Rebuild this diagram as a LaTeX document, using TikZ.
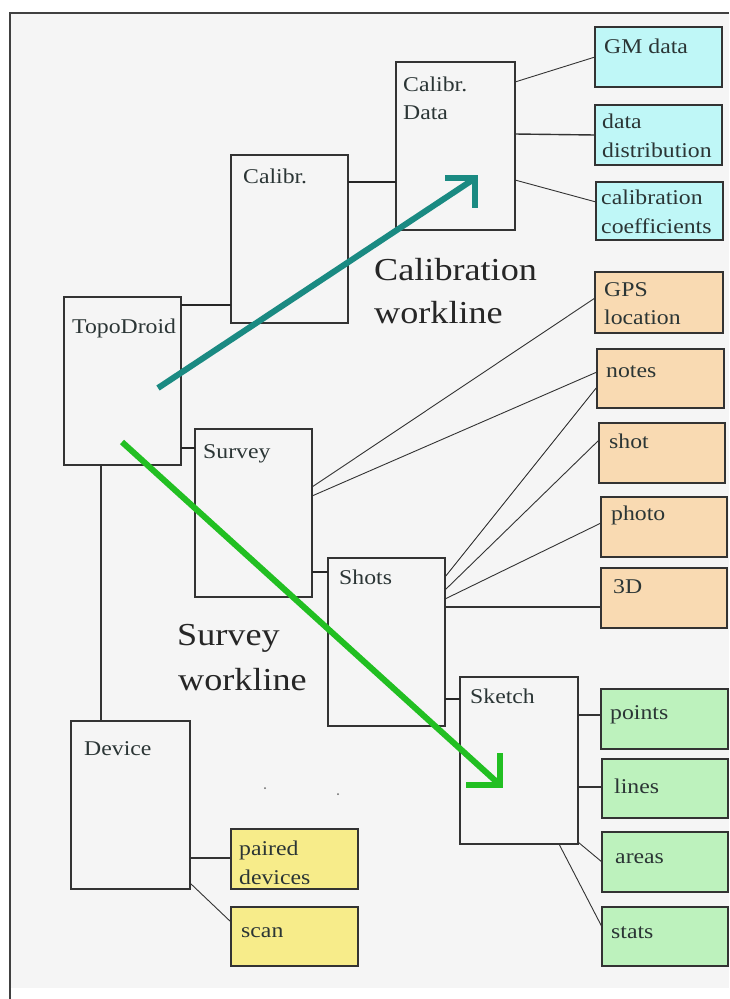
\documentclass[tikz,border=0pt]{standalone}
\usepackage{fontspec}
\setmainfont{LiberationSerif}[Extension=.ttf, UprightFont=*-Regular, BoldFont=*-Bold]
\usetikzlibrary{calc}
\definecolor{bgc}{HTML}{F5F5F5}
\definecolor{cyanf}{HTML}{BFF7F7}
\definecolor{peachf}{HTML}{F9DAB2}
\definecolor{yellowf}{HTML}{F7EC8A}
\definecolor{greenf}{HTML}{BDF2BD}
\definecolor{linec}{HTML}{333333}
\definecolor{textc}{HTML}{2B3535}
\definecolor{tealc}{HTML}{1A8A82}
\definecolor{greenc}{HTML}{22BF22}
\newcommand{\mybox}[6]{\node[#1, minimum width={#5-#3}, minimum height={#6-#4}, anchor=north west] (#2) at (#3,#4) {};}
\tikzset{
  boxst/.style={draw=linec, line width=1.2pt, inner sep=0pt, outer sep=0pt},
  wbox/.style={boxst, fill=bgc},
  cbox/.style={boxst, fill=cyanf},
  pbox/.style={boxst, fill=peachf},
  ybox/.style={boxst, fill=yellowf},
  gbox/.style={boxst, fill=greenf},
  lbl/.style={anchor=base west, inner sep=0pt, text=textc, xscale=1.13, transform shape, font=\fontsize{21}{24}\selectfont},
  big/.style={anchor=base west, inner sep=0pt, text=black!85, xscale=1.13, transform shape, font=\fontsize{32}{36}\selectfont},
  thickc/.style={draw=black!85, line width=2.6pt},
  thinc/.style={draw=linec, line width=0.9pt},
  medc/.style={draw=linec, line width=1.4pt},
  wl/.style={line width=6pt, line cap=butt, line join=miter},
}
\begin{document}
\begin{tikzpicture}[x=1pt,y=-1pt]
\useasboundingbox (0,0) rectangle (729,999);
% background and frame
\fill[bgc] (10,13) rectangle (729,988);
\draw[draw=black!75, line width=1.5pt] (10,999) -- (10,13) -- (729,13);

% boxes
\mybox{wbox}{topo}{64}{297}{181}{465}
\mybox{wbox}{calib}{231}{155}{348}{323}
\mybox{wbox}{cdata}{396}{62}{515}{230}
\mybox{cbox}{gm}{595}{27}{722}{87}
\mybox{cbox}{dist}{595}{105}{722}{165}
\mybox{cbox}{coef}{596}{182}{723}{240}
\mybox{pbox}{gps}{595}{272}{723}{333}
\mybox{pbox}{notes}{597}{349}{724}{408}
\mybox{pbox}{shot}{599}{423}{725}{483}
\mybox{pbox}{photo}{601}{497}{727}{557}
\mybox{pbox}{td}{601}{568}{727}{628}
\mybox{wbox}{survey}{195}{429}{312}{597}
\mybox{wbox}{shots}{328}{558}{445}{726}
\mybox{wbox}{sketch}{460}{677}{578}{844}
\mybox{gbox}{points}{601}{689}{728}{749}
\mybox{gbox}{lines}{602}{759}{728}{818}
\mybox{gbox}{areas}{602}{832}{728}{892}
\mybox{gbox}{stats}{602}{907}{728}{966}
\mybox{wbox}{device}{71}{721}{190}{889}
\mybox{ybox}{paired}{231}{829}{358}{889}
\mybox{ybox}{scan}{231}{907}{358}{966}

% connectors
\draw[thickc] ($(topo.north east)+(0,8)$) -- ($(calib.south west)+(0,-18)$);
\draw[thickc] ($(calib.north east)+(0,27)$) -- ($(cdata.north west)+(0,120)$);
\draw[thinc] ($(cdata.north east)+(0,20)$) -- ($(gm.north west)+(0,30)$);
\draw[medc] ($(cdata.north east)+(0,72)$) -- (dist.west);
\draw[thinc] ($(cdata.north east)+(0,118)$) -- ($(coef.north west)+(0,20)$);
\draw[thickc] ($(topo.south east)+(0,-17)$) -- ($(survey.north west)+(0,19)$);
\draw[thinc] ($(survey.north east)+(0,58)$) -- ($(gps.north west)+(0,26)$);
\draw[thinc] ($(survey.north east)+(0,67)$) -- ($(notes.north west)+(0,23)$);
\draw[thickc] ($(survey.south east)+(0,-25)$) -- ($(shots.north west)+(0,14)$);
\draw[thinc] ($(shots.north east)+(0,19)$) -- ($(notes.north west)+(0,38)$);
\draw[thinc] ($(shots.north east)+(0,32)$) -- ($(shot.north west)+(0,17)$);
\draw[thinc] ($(shots.north east)+(0,41)$) -- ($(photo.north west)+(0,26)$);
\draw[medc] ($(shots.north east)+(0,49)$) -- ($(td.north west)+(0,39)$);
\draw[thickc] ($(shots.south east)+(0,-27)$) -- ($(sketch.north west)+(0,22)$);
\draw[medc] ($(sketch.north east)+(0,38)$) -- ($(points.north west)+(0,26)$);
\draw[medc] ($(sketch.north east)+(0,110)$) -- ($(lines.north west)+(0,28)$);
\draw[thinc] ($(sketch.south east)+(0,-2)$) -- ($(areas.north west)+(0,30)$);
\draw[thinc] ($(sketch.south east)+(-19,0)$) -- ($(stats.north west)+(0,20)$);
\draw[medc] ($(device.north east)+(0,137)$) -- ($(paired.north west)+(0,29)$);
\draw[thinc] ($(device.south east)+(0,-6)$) -- ($(scan.north west)+(0,15)$);
\draw[medc] ($(topo.south west)+(37,0)$) -- ($(device.north west)+(30,0)$);

% box labels
\node[lbl] (topo-t) at (72,333) {TopoDroid};
\node[lbl] (calib-t) at (243,183) {Calibr.};
\node[lbl] (cdata-t1) at (403,91) {Calibr.};
\node[lbl] (cdata-t2) at (403,119) {Data};
\node[lbl] (gm-t) at (604,53) {GM data};
\node[lbl] (dist-t1) at (602,128) {data};
\node[lbl] (dist-t2) at (602,157) {distribution};
\node[lbl] (coef-t1) at (601,204) {calibration};
\node[lbl] (coef-t2) at (601,233) {coefficients};
\node[lbl] (gps-t1) at (604,296) {GPS};
\node[lbl] (gps-t2) at (604,324) {location};
\node[lbl] (notes-t) at (606,377) {notes};
\node[lbl] (shot-t) at (609,448) {shot};
\node[lbl] (photo-t) at (611,520) {photo};
\node[lbl] (td-t) at (613,593) {3D};
\node[lbl] (survey-t) at (203,458) {Survey};
\node[lbl] (shots-t) at (339,584) {Shots};
\node[lbl] (sketch-t) at (470,703) {Sketch};
\node[lbl] (points-t) at (610,719) {points};
\node[lbl] (lines-t) at (614,793) {lines};
\node[lbl] (areas-t) at (615,863) {areas};
\node[lbl] (stats-t) at (611,938) {stats};
\node[lbl] (device-t) at (84,755) {Device};
\node[lbl] (paired-t1) at (239,855) {paired};
\node[lbl] (paired-t2) at (239,884) {devices};
\node[lbl] (scan-t) at (241,937) {scan};

% workline labels
\node[big] (cw1) at (374,280) {Calibration};
\node[big] (cw2) at (374,323) {workline};
\node[big] (sw1) at (177,645) {Survey};
\node[big] (sw2) at (178,690) {workline};

% workline arrows
\coordinate (ta0) at (158,388);
\coordinate (ta1) at (474,179);
\coordinate (tah1) at (445,178);
\coordinate (tah2) at (475,178);
\coordinate (tah3) at (475,208);
\draw[wl, draw=tealc] (ta0) -- (ta1);
\draw[wl, draw=tealc] (tah1) -- (tah2) -- (tah3);
\coordinate (ga0) at (122,442);
\coordinate (ga1) at (499,784);
\coordinate (gah1) at (466,785);
\coordinate (gah2) at (500,785);
\coordinate (gah3) at (500,753);
\draw[wl, draw=greenc] (ga0) -- (ga1);
\draw[wl, draw=greenc] (gah1) -- (gah2) -- (gah3);

% stray dots
\fill[black!60] (265,788) circle (1pt);
\fill[black!60] (338,794) circle (1pt);
\end{tikzpicture}
\end{document}
